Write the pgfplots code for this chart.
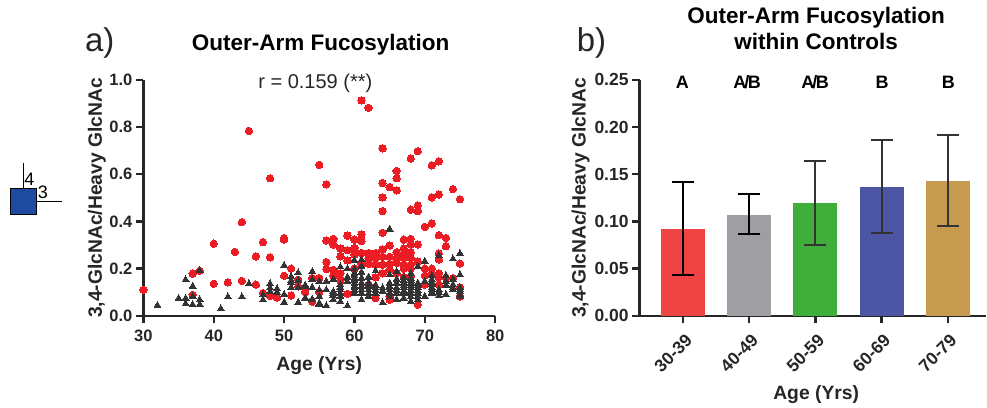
\documentclass[border=0pt]{standalone}
\usepackage{pgfplots}
\pgfplotsset{compat=1.18}
\usepackage{fontspec}
\setmainfont{Liberation Sans}
\definecolor{rd}{HTML}{EC1C24}
\definecolor{tri}{HTML}{333333}
\definecolor{b1}{HTML}{EE4444}
\definecolor{b2}{HTML}{9F9FA3}
\definecolor{b3}{HTML}{3FAE3A}
\definecolor{b4}{HTML}{4D56A5}
\definecolor{b5}{HTML}{C69A4F}
\begin{document}
\begin{tikzpicture}[x=1pt,y=1pt]
\path (0,0) rectangle (987,408);
\pgfplotsset{common/.style={
  scale only axis,
  axis lines=left,
  axis line style={line width=2.3pt,-,color={black!85}},
  tick style={line width=2.3pt,color={black!85}},
  tick align=outside,
  major tick length=7.5pt,
  /pgf/number format/assume math mode=true,
  label style={font=\fontsize{19.3}{22}\selectfont\bfseries,color={black!85}},
  clip=false,
}}
\begin{axis}[common,
  at={(143.5pt,92pt)},
  width=352pt,height=236pt,
  xmin=30,xmax=80,ymin=0,ymax=1,
  xtick={30,40,50,60,70,80},
  ytick={0,0.2,0.4,0.6,0.8,1},
  tick label style={font=\fontsize{16.5}{19}\selectfont\bfseries,color={black!85}},
  x tick label style={yshift=-3pt},
  yticklabel style={/pgf/number format/fixed,/pgf/number format/fixed zerofill,/pgf/number format/precision=1},
  xlabel={Age (Yrs)},
  xlabel style={at={(axis description cs:0.5,-0.233)},anchor=base},
  ylabel={3,4-GlcNAc/Heavy GlcNAc},
  ylabel style={at={(axis description cs:-0.132,0.5)},anchor=center},
]
\addplot[only marks,mark=*,mark size=3.7pt,mark options={fill=rd,draw=rd,line width=0pt}] coordinates {
(30,.11)(37,.179)(38,.191)(37,.089)(40,.306)(40,.136)(42,.142)(43,.271)(44,.397)(44,.148)
(45,.784)(46,.252)(46,.132)(47,.312)(48,.248)(47,.097)(48,.085)(49,.077)(48,.583)
(50,.33)(50,.323)(50,.17)(51,.2)(51,.086)(52,.153)(52,.125)(53,.1)(54,.16)(54,.061)(55,.16)
(55,.64)(56,.557)(61,.913)(62,.882)(64,.71)(68,.667)(69,.698)(71,.638)(72,.655)
(66,.614)(66,.583)(64,.563)(65,.546)(66,.532)(74,.537)(75,.494)(64,.502)(71,.502)(72,.514)
(64,.444)(68,.45)(69,.468)(69,.444)(70,.377)(71,.391)(64,.352)(72,.342)(73,.33)(73,.295)
(56,.319)(57,.326)(57,.302)(59,.34)(60,.323)(61,.345)(61,.316)(58,.285)(59,.278)(60,.288)
(58,.252)(59,.235)(61,.266)(62,.266)(63,.266)(64,.281)(65,.298)(67,.323)(68,.326)(67,.285)
(68,.302)(69,.302)(62,.245)(63,.245)(63,.217)(64,.217)(64,.18)(66,.245)(66,.224)(67,.245)
(68,.245)(67,.217)(68,.217)(56,.228)(56,.198)(57,.195)(58,.18)(72,.264)(72,.238)(75,.221)
(71,.181)(70,.17)(70,.132)(72,.164)(72,.132)(54,.06)(53,.103)(59,.093)(62,.132)(63,.163)
(63,.075)(65,.068)(65,.082)(69,.047)(75,.12)(75,.082)(68,.167)(67,.164)(66,.181)(55,.10)
(60,.26)(65,.25)(65,.22)(67,.26)(68,.27)(64,.25)(66,.27)(69,.23)(62,.22)(61,.22)(65,.195)
(67,.2)(68,.2)(70,.2)(71,.2)(72,.18)(74,.16)(73,.16)(60,.2)(57,.17)(58,.15)
};
\addplot[only marks,mark=triangle*,mark size=4pt,mark options={fill=tri,draw=tri,line width=0pt}] coordinates {
(32,.044)(35,.074)(36,.074)(36,.153)(36,.051)(37,.125)(37,.082)(37,.047)(38,.193)(38,.068)(38,.047)
(41,.03)(42,.08)(44,.08)(45,.136)(47,.089)(47,.068)(48,.136)(48,.118)(48,.103)(49,.115)(49,.1)
(50,.213)(50,.09)(50,.057)(51,.166)(51,.14)(51,.12)(51,.15)(52,.182)(52,.15)(52,.12)(52,.057)
(53,.13)(53,.075)(54,.187)(54,.155)(54,.12)(54,.07)
(65,.368)(75,.264)(74,.241)(70,.231)(72,.256)(60,.235)(61,.238)(58,.207)(59,.2)(60,.2)
(60,.181)(60,.16)(60,.139)(60,.118)(60,.096)(61,.21)(61,.16)(61,.125)(61,.096)(61,.068)
(62,.164)(62,.139)(62,.11)(62,.082)(63,.19)(63,.118)(63,.096)(64,.118)(64,.055)
(65,.174)(65,.139)(65,.11)(65,.082)(66,.188)(66,.139)(66,.118)(66,.096)(66,.068)
(67,.164)(67,.139)(67,.118)(67,.096)(67,.075)(68,.18)(68,.16)(68,.139)(68,.118)(68,.096)(68,.06)
(69,.21)(69,.139)(69,.118)(69,.096)(69,.068)(70,.146)(70,.082)(71,.17)(71,.153)(71,.132)(71,.11)(71,.093)
(72,.11)(72,.085)(73,.17)(73,.146)(73,.09)(74,.156)(74,.132)(74,.11)(75,.174)(75,.118)(75,.103)(75,.082)
(53,.125)(53,.075)(55,.146)(55,.11)(55,.082)(55,.054)(55,.047)(56,.146)(56,.11)(56,.042)
(57,.156)(57,.103)(57,.085)(57,.068)(58,.132)(58,.11)(58,.082)(58,.06)(59,.042)(59,.164)(59,.146)
(60,.17)(60,.15)(60,.125)(60,.107)(61,.185)(61,.14)(61,.11)(66,.155)(66,.108)(67,.105)(67,.128)(67,.15)
(68,.128)(68,.107)(68,.15)(68,.08)(69,.128)(69,.107)(69,.083)(71,.142)(71,.12)(71,.1)(72,.1)(63,.108)
(63,.13)(64,.105)(65,.125)(65,.095)(62,.125)(62,.095)(75,.11)(75,.09)(74,.12)(73,.13)(57,.095)(58,.12)(58,.095)
};
\end{axis}
\begin{axis}[common,
  at={(640pt,92pt)},
  width=346.5pt,height=236pt,
  xmin=0,xmax=5.238,ymin=0,ymax=0.25,
  xtick={0.66,1.66,2.66,3.66,4.66},
  xticklabels={30-39,40-49,50-59,60-69,70-79},
  tick label style={font=\fontsize{17.5}{20}\selectfont\bfseries,color={black!85}},
  x tick label style={rotate=45,anchor=north east,inner sep=1pt,xshift=-5pt,yshift=-7pt},
  ytick={0,0.05,0.1,0.15,0.2,0.25},
  yticklabel style={/pgf/number format/fixed,/pgf/number format/fixed zerofill,/pgf/number format/precision=2},
  xlabel={Age (Yrs)},
  xlabel style={at={(axis description cs:0.51,-0.356)},anchor=base},
  ylabel={3,4-GlcNAc/Heavy GlcNAc},
  ylabel style={at={(axis description cs:-0.17,0.5)},anchor=center},
]
\addplot[ybar,bar width=44pt,bar shift=0pt,draw=none,fill=b1] coordinates {(0.66,.0925)};
\addplot[ybar,bar width=44pt,bar shift=0pt,draw=none,fill=b2] coordinates {(1.66,.1073)};
\addplot[ybar,bar width=44pt,bar shift=0pt,draw=none,fill=b3] coordinates {(2.66,.1194)};
\addplot[ybar,bar width=44pt,bar shift=0pt,draw=none,fill=b4] coordinates {(3.66,.1367)};
\addplot[ybar,bar width=44pt,bar shift=0pt,draw=none,fill=b5] coordinates {(4.66,.1433)};
\addplot[draw=none,mark=none,
  error bars/.cd,y dir=both,y explicit,error mark options={rotate=90,mark size=11pt,line width=2pt,black},error bar style={line width=2pt,black}]
  coordinates {
  (0.66,.0925) +- (0,.0495)
  (1.66,.1078) +- (0,.0213)
};
\addplot[draw=none,mark=none,
  error bars/.cd,y dir=both,y explicit,error mark options={rotate=90,mark size=11pt,line width=2pt,tri},error bar style={line width=2pt,tri}]
  coordinates {
  (2.66,.1195) +- (0,.0444)
  (3.66,.1368) +- (0,.0492)
  (4.66,.1437) +- (0,.0483)
};
\end{axis}
% labels
\node[font=\fontsize{33}{36}\selectfont,anchor=base west,inner sep=0pt,color=black!85] at (85,356) {a)};
\node[font=\fontsize{33}{36}\selectfont,anchor=base west,inner sep=0pt,color=black!85] at (577,356) {b)};
\node[font=\fontsize{22.5}{25}\selectfont\bfseries,anchor=base,inner sep=0pt] at (320.8,357) {Outer-Arm Fucosylation};
\node[font=\fontsize{22.5}{25}\selectfont\bfseries,anchor=base,inner sep=0pt] at (816.7,384) {Outer-Arm Fucosylation};
\node[font=\fontsize{22.5}{25}\selectfont\bfseries,anchor=base,inner sep=0pt] at (816.7,358) {within Controls};
\node[font=\fontsize{20}{23}\selectfont,anchor=base,inner sep=0pt,color=black!85] at (315.5,319) {r = 0.159 (**)};
\node[font=\fontsize{18}{20}\selectfont\bfseries,anchor=base,inner sep=0pt] at (682.7,319) {A};
\node[font=\fontsize{18}{20}\selectfont\bfseries,anchor=base,inner sep=0pt] at (747.7,319) {A\kern-2pt/\kern-1.5pt B};
\node[font=\fontsize{18}{20}\selectfont\bfseries,anchor=base,inner sep=0pt] at (815.7,319) {A\kern-2pt/\kern-1.5pt B};
\node[font=\fontsize{18}{20}\selectfont\bfseries,anchor=base,inner sep=0pt] at (882.7,319) {B};
\node[font=\fontsize{18}{20}\selectfont\bfseries,anchor=base,inner sep=0pt] at (949,319) {B};
% glycan
\filldraw[fill={rgb,255:red,30;green,75;blue,160},draw=black,line width=1pt] (10.7,193) rectangle (36.7,219);
\draw[line width=0.9pt] (23.7,219) -- (23.7,245);
\draw[line width=0.9pt] (36.7,206) -- (62.5,206);
\node[font=\fontsize{18}{20}\selectfont,anchor=base,inner sep=0pt] at (29.5,222) {4};
\node[font=\fontsize{18}{20}\selectfont,anchor=base,inner sep=0pt] at (43,209) {3};
\end{tikzpicture}
\end{document}
